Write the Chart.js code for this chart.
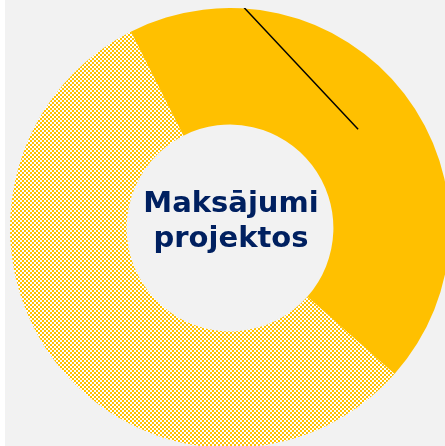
<!DOCTYPE html>
<html>
<head>
<meta charset="utf-8">
<script src="https://cdn.jsdelivr.net/npm/chart.js@4/dist/chart.umd.min.js"></script>
<style>
    html, body { margin: 0; padding: 0; background: #ffffff; overflow: hidden; width: 445px; height: 446px; }
    #panel { position: absolute; left: 5px; top: 0; width: 440px; height: 446px; background: #f2f2f2; overflow: hidden; }
    #chart { position: absolute; left: 5px; top: 8px; }
</style>
</head>
<body>
<div id="panel"><canvas id="chart" width="440" height="440"></canvas></div>
<script>
// data
const labels = ["Izmaksāts", "Atlikums"];
const values = [44, 56];
const centerLines = ["Maksājumi", "projektos"];

const YELLOW = "#ffc000";
const NAVY = "#002060";

function checkerPattern(color) {
    const c = document.createElement("canvas");
    c.width = 4;
    c.height = 4;
    const g = c.getContext("2d");
    g.fillStyle = "#ffffff";
    g.fillRect(0, 0, 4, 4);
    g.fillStyle = color;
    g.fillRect(0, 0, 2, 2);
    g.fillRect(2, 2, 2, 2);
    return g.createPattern(c, "repeat");
}

// leader line from the (clipped) label above the ring to the solid slice
const leaderLine = {
    id: "leaderLine",
    afterDatasetsDraw(chart) {
        const arc = chart.getDatasetMeta(0).data[0];
        const p = arc.tooltipPosition();
        const a = 2.8 * Math.PI / 180;
        const r = arc.outerRadius + 4;
        const ctx = chart.ctx;
        ctx.save();
        ctx.strokeStyle = "#000000";
        ctx.lineWidth = 1.5;
        ctx.beginPath();
        ctx.moveTo(arc.x + r * Math.sin(a), arc.y - r * Math.cos(a));
        ctx.lineTo(p.x, p.y);
        ctx.stroke();
        ctx.restore();
    }
};

const centerText = {
    id: "centerText",
    afterDraw(chart) {
        const arc = chart.getDatasetMeta(0).data[0];
        const ctx = chart.ctx;
        ctx.save();
        ctx.fillStyle = NAVY;
        ctx.font = "bold 29px 'DejaVu Sans', Verdana, sans-serif";
        ctx.textAlign = "center";
        ctx.textBaseline = "alphabetic";
        ctx.fillText(centerLines[0], arc.x + 1, arc.y - 16);
        ctx.fillText(centerLines[1], arc.x + 1, arc.y + 19);
        ctx.restore();
    }
};

new Chart(document.getElementById("chart"), {
    type: "doughnut",
    data: {
        labels: labels,
        datasets: [{
            data: values,
            backgroundColor: [YELLOW, checkerPattern(YELLOW)],
            borderWidth: 0,
            hoverOffset: 0
        }]
    },
    options: {
        responsive: false,
        animation: false,
        rotation: -26.8,
        cutout: "47%",
        layout: { padding: 0 },
        plugins: {
            legend: { display: false },
            tooltip: { enabled: false }
        }
    },
    plugins: [leaderLine, centerText]
});
</script>
</body>
</html>
